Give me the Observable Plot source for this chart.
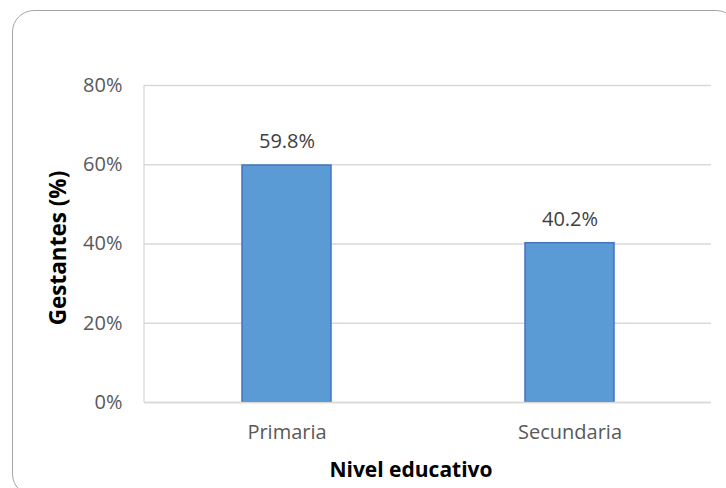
<!DOCTYPE html>
<html>
<head>
<meta charset="utf-8">
<script src="https://cdn.jsdelivr.net/npm/d3@7"></script>
<script src="https://cdn.jsdelivr.net/npm/@observablehq/plot@0.6"></script>
<style>
  html, body { margin: 0; padding: 0; background: #fff; }
  #wrap { position: relative; width: 726px; height: 488px; overflow: hidden; background: #fff; }
  #border {
    position: absolute; left: 12px; top: 10px; width: 726px; height: 486px;
    box-sizing: border-box; border: 1.6px solid #a6a6a6; border-radius: 22px;
  }
  #chart { position: absolute; left: 0; top: 0; }
</style>
</head>
<body>
<div id="wrap">
  <div id="border"></div>
  <div id="chart"></div>
</div>
<script>
// Nivel educativo de las gestantes
const categories = ["Primaria", "Secundaria"];
const values = [59.8, 40.2];
const yTicks = [0, 20, 40, 60, 80];
const xTitle = "Nivel educativo";
const yTitle = "Gestantes (%)";

const data = categories.map((c, i) => ({ nivel: c, pct: values[i] }));
const font = "'Open Sans', 'Liberation Sans', sans-serif";
const plotWidth = 726 - 144 - 15;

const chart = Plot.plot({
  width: 726,
  height: 488,
  marginLeft: 144,
  marginRight: 15,
  marginTop: 85,
  marginBottom: 86,
  style: { fontFamily: font, background: "transparent", overflow: "visible" },
  x: { domain: categories, paddingInner: 0.686, paddingOuter: 0.343, label: null },
  y: { domain: [0, 80], label: null },
  marks: [
    Plot.gridY(yTicks, { stroke: "#d9d9d9", strokeOpacity: 1, strokeWidth: 1.3 }),
    // thin vertical line along the left edge of the plotting area
    Plot.rect([0], {
      y1: 0, y2: 80, insetLeft: -0.65, insetRight: plotWidth - 0.65, fill: "#d9d9d9"
    }),
    Plot.axisY(yTicks, {
      tickSize: 0, tickPadding: 22, tickFormat: d => d + "%",
      fontSize: 20, fill: "#595959", label: null
    }),
    Plot.axisX({
      tickSize: 0, tickPadding: 22, fontSize: 20, fill: "#595959", label: null
    }),
    Plot.barY(data, {
      x: "nivel", y: "pct", fill: "#5b9bd5", stroke: "#4472c4", strokeWidth: 1.5
    }),
    Plot.text(data, {
      x: "nivel", y: "pct", text: d => d.pct.toFixed(1) + "%",
      dy: -24, fontSize: 20, fill: "#404040"
    }),
    Plot.ruleY([0], { stroke: "#d9d9d9", strokeWidth: 1.3 }),
    Plot.text([yTitle], {
      frameAnchor: "left", textAnchor: "middle", dx: -86, dy: 4, rotate: -90,
      fontSize: 22.5, fontWeight: "bold", fill: "#000"
    }),
    Plot.text([xTitle], {
      frameAnchor: "bottom", dx: -17, dy: 74,
      fontSize: 21, fontWeight: "bold", fill: "#000"
    })
  ]
});

document.getElementById("chart").appendChild(chart);
</script>
</body>
</html>
